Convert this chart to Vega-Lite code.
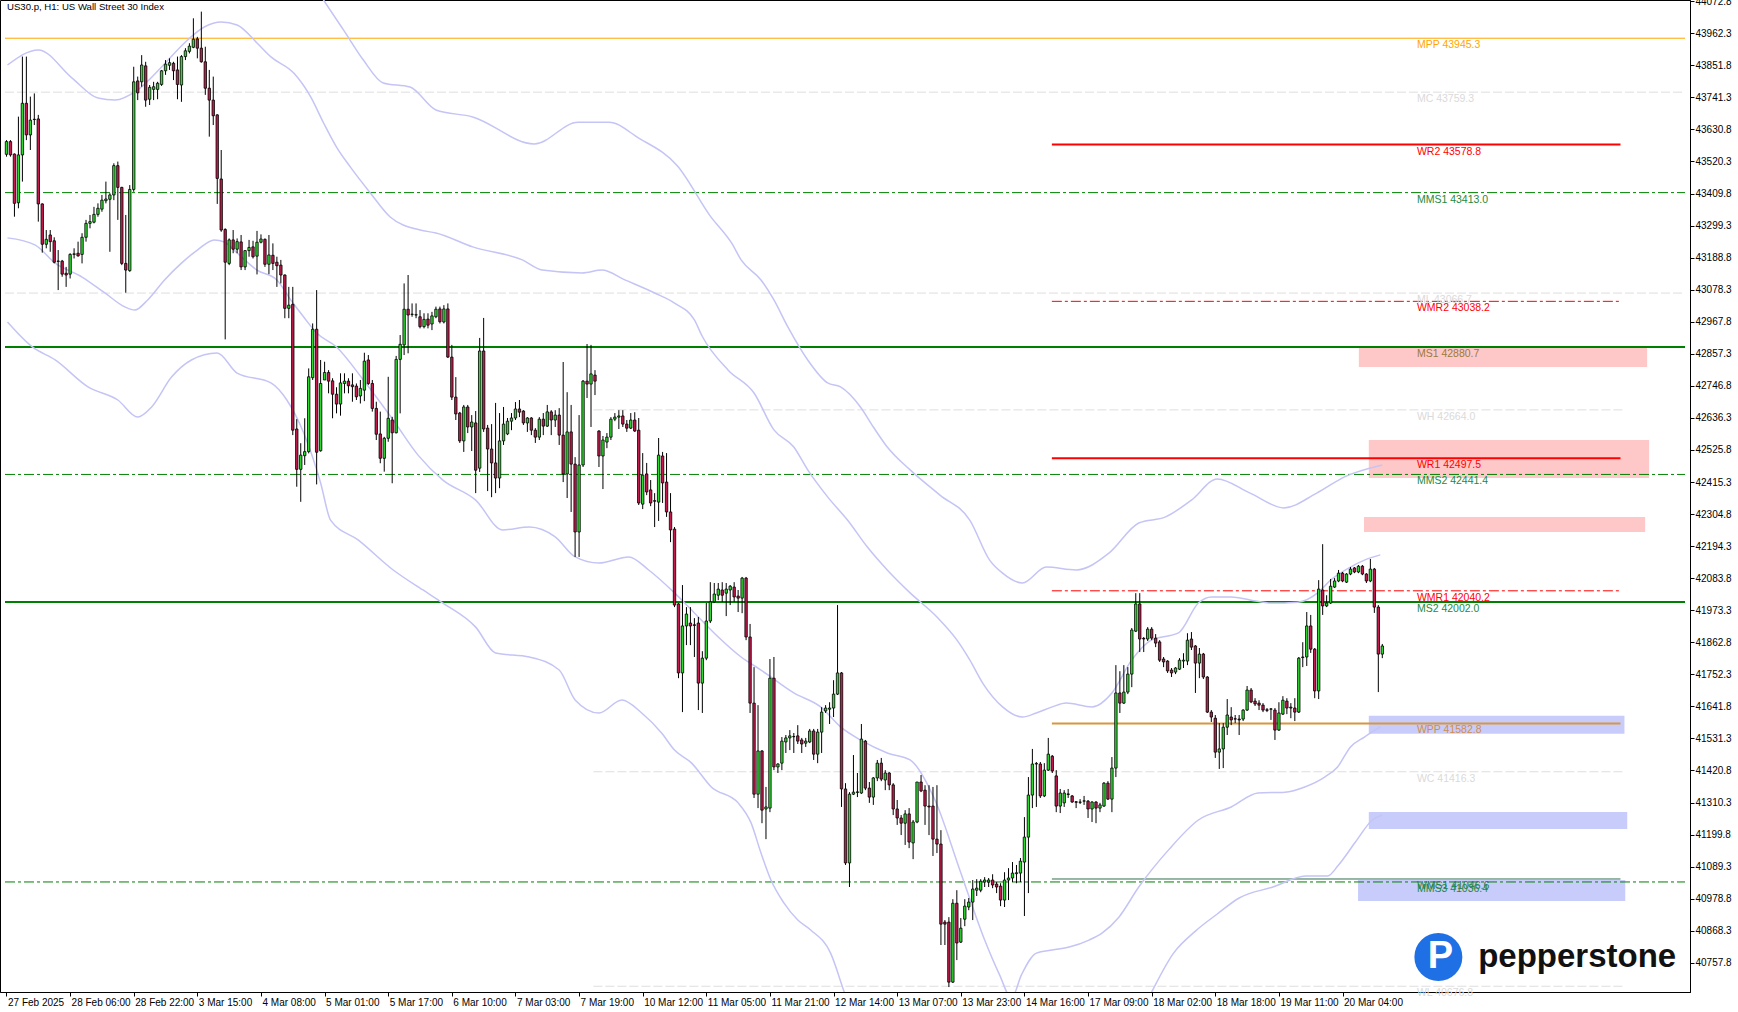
{
"$schema":"https://vega.github.io/schema/vega-lite/v6.json",
"width":1690,"height":992,"autosize":"none",
"padding":{"left":0,"top":0,"right":48,"bottom":20},
"background":"#ffffff",
"config":{"view":{"stroke":"#000000","strokeWidth":1},"axis":{"grid":false,"labelOverlap":false,"labelSeparation":0}},
"datasets":{
"candles":[
{"i":0,"o":43545,"h":43594,"l":43537,"c":43589},{"i":1,"o":43589,"h":43594,"l":43537,"c":43543},{"i":2,"o":43546,"h":43548,"l":43330,"c":43376},{"i":3,"o":43378,"h":43675,"l":43359,"c":43543},{"i":4,"o":43543,"h":43882,"l":43451,"c":43721},{"i":5,"o":43721,"h":43882,"l":43594,"c":43612},{"i":6,"o":43612,"h":43744,"l":43560,"c":43663},{"i":7,"o":43665,"h":43755,"l":43646,"c":43666},{"i":8,"o":43667,"h":43681,"l":43313,"c":43374},{"i":9,"o":43374,"h":43376,"l":43206,"c":43235},
{"i":10,"o":43235,"h":43284,"l":43221,"c":43252},{"i":11,"o":43267,"h":43284,"l":43209,"c":43244},{"i":12,"o":43247,"h":43259,"l":43169,"c":43173},{"i":13,"o":43177,"h":43215,"l":43077,"c":43176},{"i":14,"o":43177,"h":43181,"l":43123,"c":43132},{"i":15,"o":43135,"h":43157,"l":43088,"c":43129},{"i":16,"o":43132,"h":43204,"l":43117,"c":43200},{"i":17,"o":43200,"h":43221,"l":43186,"c":43202},{"i":18,"o":43204,"h":43244,"l":43192,"c":43195},{"i":19,"o":43200,"h":43273,"l":43169,"c":43259},
{"i":20,"o":43259,"h":43319,"l":43244,"c":43307},{"i":21,"o":43307,"h":43336,"l":43290,"c":43313},{"i":22,"o":43311,"h":43364,"l":43307,"c":43338},{"i":23,"o":43338,"h":43376,"l":43330,"c":43359},{"i":24,"o":43356,"h":43405,"l":43347,"c":43387},{"i":25,"o":43385,"h":43451,"l":43376,"c":43391},{"i":26,"o":43390,"h":43411,"l":43209,"c":43405},{"i":27,"o":43405,"h":43514,"l":43387,"c":43506},{"i":28,"o":43506,"h":43520,"l":43319,"c":43431},{"i":29,"o":43431,"h":43433,"l":43163,"c":43169},
{"i":30,"o":43169,"h":43336,"l":43068,"c":43146},{"i":31,"o":43144,"h":43439,"l":43140,"c":43424},{"i":32,"o":43424,"h":43847,"l":43416,"c":43795},{"i":33,"o":43798,"h":43813,"l":43732,"c":43757},{"i":34,"o":43795,"h":43887,"l":43778,"c":43853},{"i":35,"o":43850,"h":43864,"l":43709,"c":43732},{"i":36,"o":43735,"h":43784,"l":43715,"c":43776},{"i":37,"o":43769,"h":43795,"l":43732,"c":43778},{"i":38,"o":43769,"h":43795,"l":43735,"c":43790},{"i":39,"o":43786,"h":43836,"l":43781,"c":43833},
{"i":40,"o":43833,"h":43870,"l":43819,"c":43856},{"i":41,"o":43852,"h":43876,"l":43836,"c":43861},{"i":42,"o":43859,"h":43864,"l":43801,"c":43833},{"i":43,"o":43836,"h":43882,"l":43735,"c":43786},{"i":44,"o":43784,"h":43887,"l":43726,"c":43882},{"i":45,"o":43882,"h":43911,"l":43870,"c":43902},{"i":46,"o":43900,"h":43928,"l":43893,"c":43918},{"i":47,"o":43914,"h":44014,"l":43911,"c":43942},{"i":48,"o":43943,"h":43950,"l":43876,"c":43911},{"i":49,"o":43911,"h":44037,"l":43861,"c":43864},
{"i":50,"o":43864,"h":43916,"l":43750,"c":43773},{"i":51,"o":43773,"h":43836,"l":43606,"c":43732},{"i":52,"o":43732,"h":43813,"l":43646,"c":43678},{"i":53,"o":43681,"h":43683,"l":43374,"c":43462},{"i":54,"o":43460,"h":43560,"l":43278,"c":43284},{"i":55,"o":43286,"h":43290,"l":42907,"c":43173},{"i":56,"o":43169,"h":43255,"l":43163,"c":43250},{"i":57,"o":43250,"h":43284,"l":43204,"c":43218},{"i":58,"o":43218,"h":43255,"l":43204,"c":43244},{"i":59,"o":43243,"h":43267,"l":43146,"c":43157},
{"i":60,"o":43157,"h":43215,"l":43146,"c":43213},{"i":61,"o":43213,"h":43250,"l":43192,"c":43224},{"i":62,"o":43226,"h":43247,"l":43186,"c":43192},{"i":63,"o":43194,"h":43281,"l":43131,"c":43242},{"i":64,"o":43242,"h":43269,"l":43238,"c":43253},{"i":65,"o":43252,"h":43255,"l":43157,"c":43166},{"i":66,"o":43166,"h":43267,"l":43132,"c":43198},{"i":67,"o":43197,"h":43238,"l":43146,"c":43169},{"i":68,"o":43173,"h":43192,"l":43088,"c":43161},{"i":69,"o":43163,"h":43181,"l":43100,"c":43129},
{"i":70,"o":43129,"h":43131,"l":42980,"c":43014},{"i":71,"o":43014,"h":43088,"l":42980,"c":43025},{"i":72,"o":43028,"h":43088,"l":42577,"c":42594},{"i":73,"o":42598,"h":42632,"l":42399,"c":42459},{"i":74,"o":42459,"h":42549,"l":42347,"c":42508},{"i":75,"o":42506,"h":42635,"l":42474,"c":42520},{"i":76,"o":42520,"h":42807,"l":42514,"c":42778},{"i":77,"o":42775,"h":42962,"l":42767,"c":42942},{"i":78,"o":42942,"h":43077,"l":42407,"c":42518},{"i":79,"o":42523,"h":42836,"l":42520,"c":42755},
{"i":80,"o":42767,"h":42830,"l":42767,"c":42793},{"i":81,"o":42793,"h":42801,"l":42721,"c":42763},{"i":82,"o":42764,"h":42773,"l":42635,"c":42718},{"i":83,"o":42718,"h":42742,"l":42652,"c":42684},{"i":84,"o":42684,"h":42790,"l":42644,"c":42757},{"i":85,"o":42755,"h":42790,"l":42721,"c":42763},{"i":86,"o":42763,"h":42773,"l":42721,"c":42747},{"i":87,"o":42750,"h":42790,"l":42692,"c":42744},{"i":88,"o":42746,"h":42755,"l":42698,"c":42709},{"i":89,"o":42712,"h":42767,"l":42686,"c":42738},
{"i":90,"o":42732,"h":42861,"l":42694,"c":42832},{"i":91,"o":42836,"h":42853,"l":42750,"c":42755},{"i":92,"o":42755,"h":42767,"l":42658,"c":42669},{"i":93,"o":42669,"h":42692,"l":42560,"c":42580},{"i":94,"o":42581,"h":42658,"l":42480,"c":42497},{"i":95,"o":42497,"h":42571,"l":42451,"c":42566},{"i":96,"o":42566,"h":42778,"l":42554,"c":42635},{"i":97,"o":42629,"h":42640,"l":42411,"c":42585},{"i":98,"o":42585,"h":42850,"l":42583,"c":42838},{"i":99,"o":42838,"h":42922,"l":42652,"c":42890},
{"i":100,"o":42888,"h":43100,"l":42853,"c":43011},{"i":101,"o":43011,"h":43129,"l":42859,"c":42991},{"i":102,"o":42993,"h":43031,"l":42985,"c":42994},{"i":103,"o":42991,"h":43031,"l":42980,"c":42992},{"i":104,"o":42985,"h":43008,"l":42945,"c":42951},{"i":105,"o":42951,"h":42997,"l":42945,"c":42976},{"i":106,"o":42977,"h":42997,"l":42945,"c":42956},{"i":107,"o":42960,"h":43002,"l":42939,"c":42988},{"i":108,"o":42985,"h":43020,"l":42980,"c":43011},{"i":109,"o":43012,"h":43020,"l":42962,"c":42968},
{"i":110,"o":42967,"h":43025,"l":42962,"c":43012},{"i":111,"o":43012,"h":43031,"l":42843,"c":42846},{"i":112,"o":42846,"h":42888,"l":42698,"c":42708},{"i":113,"o":42708,"h":42777,"l":42629,"c":42650},{"i":114,"o":42653,"h":42657,"l":42550,"c":42557},{"i":115,"o":42557,"h":42681,"l":42519,"c":42674},{"i":116,"o":42674,"h":42681,"l":42584,"c":42605},{"i":117,"o":42605,"h":42646,"l":42522,"c":42622},{"i":118,"o":42619,"h":42660,"l":42377,"c":42456},{"i":119,"o":42463,"h":42912,"l":42450,"c":42867},
{"i":120,"o":42867,"h":42981,"l":42588,"c":42598},{"i":121,"o":42601,"h":42612,"l":42384,"c":42529},{"i":122,"o":42529,"h":42615,"l":42363,"c":42481},{"i":123,"o":42481,"h":42688,"l":42377,"c":42429},{"i":124,"o":42429,"h":42653,"l":42394,"c":42557},{"i":125,"o":42557,"h":42674,"l":42543,"c":42615},{"i":126,"o":42581,"h":42636,"l":42577,"c":42625},{"i":127,"o":42625,"h":42653,"l":42594,"c":42636},{"i":128,"o":42636,"h":42691,"l":42629,"c":42667},{"i":129,"o":42667,"h":42698,"l":42639,"c":42656},
{"i":130,"o":42660,"h":42663,"l":42612,"c":42619},{"i":131,"o":42619,"h":42639,"l":42588,"c":42636},{"i":132,"o":42636,"h":42639,"l":42577,"c":42594},{"i":133,"o":42594,"h":42601,"l":42550,"c":42570},{"i":134,"o":42570,"h":42639,"l":42560,"c":42632},{"i":135,"o":42632,"h":42653,"l":42577,"c":42608},{"i":136,"o":42608,"h":42681,"l":42605,"c":42657},{"i":137,"o":42657,"h":42663,"l":42577,"c":42629},{"i":138,"o":42629,"h":42663,"l":42605,"c":42646},{"i":139,"o":42646,"h":42670,"l":42543,"c":42577},
{"i":140,"o":42577,"h":42829,"l":42415,"c":42443},{"i":141,"o":42443,"h":42725,"l":42360,"c":42588},{"i":142,"o":42588,"h":42681,"l":42312,"c":42477},{"i":143,"o":42477,"h":42501,"l":42157,"c":42243},{"i":144,"o":42243,"h":42646,"l":42157,"c":42474},{"i":145,"o":42474,"h":42767,"l":42467,"c":42763},{"i":146,"o":42763,"h":42891,"l":42705,"c":42753},{"i":147,"o":42753,"h":42888,"l":42605,"c":42788},{"i":148,"o":42784,"h":42801,"l":42715,"c":42763},{"i":149,"o":42591,"h":42594,"l":42467,"c":42505},
{"i":150,"o":42505,"h":42574,"l":42391,"c":42560},{"i":151,"o":42553,"h":42584,"l":42532,"c":42570},{"i":152,"o":42570,"h":42639,"l":42560,"c":42632},{"i":153,"o":42632,"h":42653,"l":42625,"c":42639},{"i":154,"o":42639,"h":42663,"l":42598,"c":42643},{"i":155,"o":42643,"h":42663,"l":42605,"c":42615},{"i":156,"o":42615,"h":42629,"l":42588,"c":42601},{"i":157,"o":42601,"h":42653,"l":42598,"c":42629},{"i":158,"o":42629,"h":42656,"l":42588,"c":42591},{"i":159,"o":42594,"h":42636,"l":42336,"c":42343},
{"i":160,"o":42339,"h":42515,"l":42322,"c":42439},{"i":161,"o":42443,"h":42481,"l":42370,"c":42381},{"i":162,"o":42388,"h":42422,"l":42332,"c":42343},{"i":163,"o":42351,"h":42377,"l":42260,"c":42349},{"i":164,"o":42346,"h":42567,"l":42281,"c":42508},{"i":165,"o":42505,"h":42519,"l":42343,"c":42412},{"i":166,"o":42415,"h":42515,"l":42295,"c":42312},{"i":167,"o":42312,"h":42377,"l":42208,"c":42250},{"i":168,"o":42253,"h":42260,"l":41984,"c":41991},{"i":169,"o":41995,"h":41998,"l":41739,"c":41757},
{"i":170,"o":41757,"h":42060,"l":41622,"c":41919},{"i":171,"o":41919,"h":41984,"l":41853,"c":41960},{"i":172,"o":41929,"h":41984,"l":41853,"c":41919},{"i":173,"o":41923,"h":41946,"l":41812,"c":41921},{"i":174,"o":41929,"h":41950,"l":41629,"c":41722},{"i":175,"o":41722,"h":41832,"l":41619,"c":41808},{"i":176,"o":41808,"h":41998,"l":41801,"c":41936},{"i":177,"o":41936,"h":42070,"l":41929,"c":42002},{"i":178,"o":42002,"h":42067,"l":41998,"c":42029},{"i":179,"o":42025,"h":42067,"l":42008,"c":42046},
{"i":180,"o":42043,"h":42070,"l":42002,"c":42025},{"i":181,"o":42032,"h":42067,"l":41953,"c":42046},{"i":182,"o":42043,"h":42060,"l":41991,"c":42056},{"i":183,"o":42053,"h":42070,"l":42002,"c":42019},{"i":184,"o":42022,"h":42043,"l":41967,"c":42015},{"i":185,"o":42015,"h":42088,"l":41963,"c":42084},{"i":186,"o":42084,"h":42088,"l":41870,"c":41881},{"i":187,"o":41881,"h":41926,"l":41619,"c":41653},{"i":188,"o":41653,"h":41777,"l":41326,"c":41339},{"i":189,"o":41339,"h":41646,"l":41291,"c":41488},
{"i":190,"o":41488,"h":41491,"l":41239,"c":41284},{"i":191,"o":41288,"h":41364,"l":41184,"c":41295},{"i":192,"o":41291,"h":41805,"l":41277,"c":41739},{"i":193,"o":41739,"h":41812,"l":41422,"c":41433},{"i":194,"o":41433,"h":41446,"l":41412,"c":41443},{"i":195,"o":41446,"h":41536,"l":41422,"c":41522},{"i":196,"o":41519,"h":41543,"l":41481,"c":41533},{"i":197,"o":41533,"h":41560,"l":41491,"c":41540},{"i":198,"o":41538,"h":41550,"l":41481,"c":41537},{"i":199,"o":41540,"h":41577,"l":41512,"c":41522},
{"i":200,"o":41526,"h":41533,"l":41481,"c":41512},{"i":201,"o":41515,"h":41533,"l":41502,"c":41522},{"i":202,"o":41519,"h":41564,"l":41515,"c":41557},{"i":203,"o":41557,"h":41564,"l":41457,"c":41477},{"i":204,"o":41477,"h":41564,"l":41446,"c":41553},{"i":205,"o":41553,"h":41639,"l":41481,"c":41622},{"i":206,"o":41626,"h":41646,"l":41619,"c":41636},{"i":207,"o":41632,"h":41656,"l":41581,"c":41636},{"i":208,"o":41636,"h":41732,"l":41605,"c":41684},{"i":209,"o":41684,"h":41991,"l":41681,"c":41757},
{"i":210,"o":41757,"h":41760,"l":41295,"c":41357},{"i":211,"o":41357,"h":41377,"l":41095,"c":41102},{"i":212,"o":41102,"h":41346,"l":41019,"c":41339},{"i":213,"o":41339,"h":41474,"l":41336,"c":41346},{"i":214,"o":41345,"h":41412,"l":41329,"c":41347},{"i":215,"o":41343,"h":41581,"l":41340,"c":41529},{"i":216,"o":41522,"h":41526,"l":41353,"c":41360},{"i":217,"o":41360,"h":41381,"l":41309,"c":41329},{"i":218,"o":41329,"h":41398,"l":41302,"c":41395},{"i":219,"o":41395,"h":41457,"l":41384,"c":41446},
{"i":220,"o":41446,"h":41464,"l":41384,"c":41391},{"i":221,"o":41388,"h":41422,"l":41353,"c":41412},{"i":222,"o":41412,"h":41415,"l":41353,"c":41371},{"i":223,"o":41371,"h":41377,"l":41267,"c":41288},{"i":224,"o":41288,"h":41319,"l":41233,"c":41257},{"i":225,"o":41257,"h":41267,"l":41198,"c":41239},{"i":226,"o":41239,"h":41284,"l":41164,"c":41271},{"i":227,"o":41271,"h":41291,"l":41153,"c":41174},{"i":228,"o":41171,"h":41250,"l":41115,"c":41243},{"i":229,"o":41243,"h":41381,"l":41239,"c":41381},
{"i":230,"o":41381,"h":41405,"l":41346,"c":41350},{"i":231,"o":41353,"h":41370,"l":41233,"c":41298},{"i":232,"o":41298,"h":41370,"l":41198,"c":41295},{"i":233,"o":41298,"h":41364,"l":41126,"c":41184},{"i":234,"o":41184,"h":41370,"l":41136,"c":41167},{"i":235,"o":41167,"h":41215,"l":40819,"c":40891},{"i":236,"o":40898,"h":40905,"l":40819,"c":40891},{"i":237,"o":40898,"h":40915,"l":40674,"c":40691},{"i":238,"o":40691,"h":40977,"l":40688,"c":40963},{"i":239,"o":40963,"h":41008,"l":40767,"c":40826},
{"i":240,"o":40829,"h":40912,"l":40826,"c":40877},{"i":241,"o":40908,"h":40977,"l":40884,"c":40953},{"i":242,"o":40950,"h":40981,"l":40939,"c":40967},{"i":243,"o":40967,"h":41043,"l":40905,"c":41012},{"i":244,"o":41008,"h":41046,"l":40988,"c":41015},{"i":245,"o":41008,"h":41046,"l":41001,"c":41039},{"i":246,"o":41036,"h":41053,"l":41019,"c":41043},{"i":247,"o":41036,"h":41050,"l":41019,"c":41043},{"i":248,"o":41043,"h":41063,"l":41015,"c":41026},{"i":249,"o":41029,"h":41036,"l":40998,"c":41019},
{"i":250,"o":41022,"h":41032,"l":40953,"c":40974},{"i":251,"o":40974,"h":41070,"l":40950,"c":41043},{"i":252,"o":41043,"h":41084,"l":40974,"c":41050},{"i":253,"o":41050,"h":41105,"l":41036,"c":41067},{"i":254,"o":41065,"h":41095,"l":41032,"c":41068},{"i":255,"o":41067,"h":41119,"l":41036,"c":41108},{"i":256,"o":41105,"h":41260,"l":40919,"c":41191},{"i":257,"o":41191,"h":41398,"l":40998,"c":41336},{"i":258,"o":41336,"h":41495,"l":41291,"c":41443},{"i":259,"o":41443,"h":41450,"l":41295,"c":41445},
{"i":260,"o":41443,"h":41450,"l":41326,"c":41333},{"i":261,"o":41333,"h":41446,"l":41329,"c":41422},{"i":262,"o":41422,"h":41533,"l":41419,"c":41477},{"i":263,"o":41470,"h":41474,"l":41412,"c":41419},{"i":264,"o":41402,"h":41422,"l":41277,"c":41298},{"i":265,"o":41298,"h":41357,"l":41274,"c":41343},{"i":266,"o":41309,"h":41353,"l":41295,"c":41343},{"i":267,"o":41338,"h":41357,"l":41326,"c":41340},{"i":268,"o":41333,"h":41336,"l":41309,"c":41312},{"i":269,"o":41313,"h":41315,"l":41291,"c":41311},
{"i":270,"o":41311,"h":41322,"l":41305,"c":41312},{"i":271,"o":41315,"h":41333,"l":41302,"c":41316},{"i":272,"o":41315,"h":41319,"l":41257,"c":41288},{"i":273,"o":41288,"h":41315,"l":41243,"c":41312},{"i":274,"o":41312,"h":41315,"l":41239,"c":41291},{"i":275,"o":41291,"h":41309,"l":41277,"c":41302},{"i":276,"o":41298,"h":41381,"l":41295,"c":41377},{"i":277,"o":41377,"h":41384,"l":41319,"c":41322},{"i":278,"o":41322,"h":41467,"l":41277,"c":41429},{"i":279,"o":41429,"h":41784,"l":41398,"c":41688},
{"i":280,"o":41688,"h":41763,"l":41619,"c":41653},{"i":281,"o":41653,"h":41784,"l":41650,"c":41691},{"i":282,"o":41691,"h":41777,"l":41684,"c":41753},{"i":283,"o":41753,"h":41912,"l":41708,"c":41905},{"i":284,"o":41901,"h":42032,"l":41898,"c":41995},{"i":285,"o":41995,"h":42032,"l":41829,"c":41874},{"i":286,"o":41876,"h":41881,"l":41829,"c":41874},{"i":287,"o":41874,"h":41915,"l":41867,"c":41908},{"i":288,"o":41908,"h":41915,"l":41870,"c":41877},{"i":289,"o":41877,"h":41891,"l":41846,"c":41860},
{"i":290,"o":41864,"h":41870,"l":41795,"c":41801},{"i":291,"o":41805,"h":41812,"l":41777,"c":41795},{"i":292,"o":41798,"h":41801,"l":41757,"c":41764},{"i":293,"o":41767,"h":41774,"l":41743,"c":41757},{"i":294,"o":41760,"h":41777,"l":41753,"c":41774},{"i":295,"o":41770,"h":41808,"l":41767,"c":41801},{"i":296,"o":41798,"h":41825,"l":41774,"c":41801},{"i":297,"o":41798,"h":41894,"l":41784,"c":41870},{"i":298,"o":41874,"h":41898,"l":41836,"c":41846},{"i":299,"o":41850,"h":41853,"l":41688,"c":41791},
{"i":300,"o":41791,"h":41843,"l":41739,"c":41822},{"i":301,"o":41822,"h":41826,"l":41736,"c":41743},{"i":302,"o":41743,"h":41746,"l":41619,"c":41622},{"i":303,"o":41622,"h":41629,"l":41588,"c":41605},{"i":304,"o":41601,"h":41612,"l":41464,"c":41484},{"i":305,"o":41484,"h":41584,"l":41426,"c":41495},{"i":306,"o":41495,"h":41584,"l":41429,"c":41570},{"i":307,"o":41570,"h":41667,"l":41543,"c":41612},{"i":308,"o":41605,"h":41639,"l":41577,"c":41595},{"i":309,"o":41599,"h":41612,"l":41584,"c":41598},
{"i":310,"o":41598,"h":41612,"l":41543,"c":41595},{"i":311,"o":41598,"h":41632,"l":41591,"c":41629},{"i":312,"o":41629,"h":41712,"l":41626,"c":41698},{"i":313,"o":41698,"h":41705,"l":41653,"c":41657},{"i":314,"o":41660,"h":41670,"l":41643,"c":41650},{"i":315,"o":41653,"h":41663,"l":41629,"c":41646},{"i":316,"o":41646,"h":41653,"l":41622,"c":41629},{"i":317,"o":41630,"h":41636,"l":41622,"c":41628},{"i":318,"o":41632,"h":41636,"l":41595,"c":41633},{"i":319,"o":41629,"h":41636,"l":41526,"c":41560},
{"i":320,"o":41560,"h":41656,"l":41557,"c":41619},{"i":321,"o":41615,"h":41677,"l":41612,"c":41663},{"i":322,"o":41660,"h":41670,"l":41615,"c":41636},{"i":323,"o":41639,"h":41653,"l":41601,"c":41636},{"i":324,"o":41636,"h":41670,"l":41591,"c":41622},{"i":325,"o":41622,"h":41812,"l":41619,"c":41808},{"i":326,"o":41810,"h":41863,"l":41777,"c":41812},{"i":327,"o":41812,"h":41967,"l":41781,"c":41919},{"i":328,"o":41919,"h":41957,"l":41826,"c":41839},{"i":329,"o":41839,"h":41843,"l":41670,"c":41695},
{"i":330,"o":41695,"h":42077,"l":41667,"c":42046},{"i":331,"o":42043,"h":42201,"l":41957,"c":41988},{"i":332,"o":41988,"h":42025,"l":41984,"c":41998},{"i":333,"o":41998,"h":42081,"l":41995,"c":42056},{"i":334,"o":42053,"h":42084,"l":42050,"c":42074},{"i":335,"o":42074,"h":42112,"l":42070,"c":42101},{"i":336,"o":42101,"h":42105,"l":42070,"c":42074},{"i":337,"o":42070,"h":42101,"l":42067,"c":42098},{"i":338,"o":42098,"h":42122,"l":42094,"c":42115},{"i":339,"o":42119,"h":42122,"l":42101,"c":42105},
{"i":340,"o":42105,"h":42129,"l":42101,"c":42125},{"i":341,"o":42125,"h":42129,"l":42094,"c":42098},{"i":342,"o":42098,"h":42101,"l":42067,"c":42074},{"i":343,"o":42074,"h":42150,"l":42070,"c":42115},{"i":344,"o":42115,"h":42119,"l":41964,"c":41984},{"i":345,"o":41984,"h":41991,"l":41691,"c":41822},{"i":346,"o":41822,"h":41857,"l":41808,"c":41850}
],
"bands":[
{"b":"UO","i":72,"p":44250},{"b":"UO","i":79.75,"p":44077},{"b":"UO","i":84.75,"p":43974},{"b":"UO","i":89.75,"p":43870},{"b":"UO","i":94.75,"p":43791},{"b":"UO","i":101.5,"p":43777},{"b":"UO","i":108,"p":43698},{"b":"UO","i":117.25,"p":43674},{"b":"UO","i":132.75,"p":43581},{"b":"UO","i":143.75,"p":43656},{"b":"UO","i":151.5,"p":43656},{"b":"UO","i":159,"p":43601},{"b":"UO","i":168.75,"p":43505},{"b":"UO","i":177,"p":43332},{"b":"UO","i":182.5,"p":43236},{"b":"UO","i":184.75,"p":43181},{"b":"UO","i":189.75,"p":43112},{"b":"UO","i":193,"p":43043},{"b":"UO","i":196.5,"p":42950},{"b":"UO","i":201.5,"p":42836},{"b":"UO","i":206.5,"p":42757},{"b":"UO","i":209.75,"p":42743},{"b":"UO","i":214.75,"p":42674},{"b":"UO","i":218,"p":42605},{"b":"UO","i":221.5,"p":42536},{"b":"UO","i":227.25,"p":42457},{"b":"UO","i":234.75,"p":42370},{"b":"UO","i":242.25,"p":42284},{"b":"UO","i":247.25,"p":42146},{"b":"UO","i":250.5,"p":42101},{"b":"UO","i":255.5,"p":42067},{"b":"UO","i":261.5,"p":42122},{"b":"UO","i":269,"p":42112},{"b":"UO","i":277.25,"p":42170},{"b":"UO","i":284.75,"p":42274},{"b":"UO","i":291.5,"p":42295},{"b":"UO","i":298,"p":42353},{"b":"UO","i":304.5,"p":42426},{"b":"UO","i":312.75,"p":42377},{"b":"UO","i":321.25,"p":42326},{"b":"UO","i":329.5,"p":42377},{"b":"UO","i":336.5,"p":42433},{"b":"UO","i":346,"p":42474},
{"b":"UI","i":0.25,"p":43853},{"b":"UI","i":8,"p":43905},{"b":"UI","i":16.5,"p":43808},{"b":"UI","i":23,"p":43739},{"b":"UI","i":27.25,"p":43732},{"b":"UI","i":33,"p":43767},{"b":"UI","i":39,"p":43846},{"b":"UI","i":44.75,"p":43929},{"b":"UI","i":49.75,"p":43984},{"b":"UI","i":54,"p":44001},{"b":"UI","i":58,"p":43991},{"b":"UI","i":63,"p":43929},{"b":"UI","i":66.5,"p":43881},{"b":"UI","i":72.25,"p":43825},{"b":"UI","i":76.5,"p":43743},{"b":"UI","i":79.75,"p":43653},{"b":"UI","i":83,"p":43570},{"b":"UI","i":86.5,"p":43501},{"b":"UI","i":91.5,"p":43412},{"b":"UI","i":96.5,"p":43329},{"b":"UI","i":104,"p":43284},{"b":"UI","i":108,"p":43274},{"b":"UI","i":117.25,"p":43226},{"b":"UI","i":129.75,"p":43181},{"b":"UI","i":134.75,"p":43146},{"b":"UI","i":144.75,"p":43136},{"b":"UI","i":149.75,"p":43146},{"b":"UI","i":155.5,"p":43112},{"b":"UI","i":163,"p":43067},{"b":"UI","i":168,"p":43032},{"b":"UI","i":173,"p":42974},{"b":"UI","i":175,"p":42917},{"b":"UI","i":181.5,"p":42801},{"b":"UI","i":188,"p":42722},{"b":"UI","i":193,"p":42595},{"b":"UI","i":198,"p":42536},{"b":"UI","i":201.5,"p":42457},{"b":"UI","i":206.5,"p":42364},{"b":"UI","i":211.5,"p":42284},{"b":"UI","i":216.5,"p":42191},{"b":"UI","i":221.5,"p":42112},{"b":"UI","i":227.25,"p":42033},{"b":"UI","i":234,"p":41950},{"b":"UI","i":239,"p":41871},{"b":"UI","i":242.25,"p":41802},{"b":"UI","i":245.5,"p":41722},{"b":"UI","i":250.5,"p":41640},{"b":"UI","i":255.5,"p":41605},{"b":"UI","i":259,"p":41619},{"b":"UI","i":263,"p":41640},{"b":"UI","i":266.5,"p":41653},{"b":"UI","i":273,"p":41640},{"b":"UI","i":278,"p":41688},{"b":"UI","i":283,"p":41802},{"b":"UI","i":288,"p":41871},{"b":"UI","i":294.75,"p":41895},{"b":"UI","i":299.75,"p":41998},{"b":"UI","i":303,"p":42019},{"b":"UI","i":308,"p":42019},{"b":"UI","i":313,"p":42008},{"b":"UI","i":318,"p":41998},{"b":"UI","i":324.75,"p":42001},{"b":"UI","i":329.75,"p":42033},{"b":"UI","i":333,"p":42077},{"b":"UI","i":338,"p":42122},{"b":"UI","i":341.5,"p":42146},{"b":"UI","i":345.5,"p":42164},
{"b":"LI","i":0.25,"p":43257},{"b":"LI","i":7.25,"p":43232},{"b":"LI","i":12.25,"p":43170},{"b":"LI","i":19,"p":43122},{"b":"LI","i":24.75,"p":43067},{"b":"LI","i":29.75,"p":43019},{"b":"LI","i":32.25,"p":43008},{"b":"LI","i":35.5,"p":43043},{"b":"LI","i":39.75,"p":43112},{"b":"LI","i":44,"p":43170},{"b":"LI","i":48,"p":43215},{"b":"LI","i":52.25,"p":43250},{"b":"LI","i":54.75,"p":43243},{"b":"LI","i":58,"p":43205},{"b":"LI","i":63,"p":43146},{"b":"LI","i":68,"p":43112},{"b":"LI","i":71.5,"p":43043},{"b":"LI","i":74.75,"p":42984},{"b":"LI","i":78,"p":42929},{"b":"LI","i":83,"p":42881},{"b":"LI","i":89.75,"p":42767},{"b":"LI","i":97.25,"p":42629},{"b":"LI","i":103.5,"p":42508},{"b":"LI","i":109.75,"p":42422},{"b":"LI","i":118,"p":42353},{"b":"LI","i":124.75,"p":42250},{"b":"LI","i":131.5,"p":42260},{"b":"LI","i":138,"p":42226},{"b":"LI","i":143,"p":42157},{"b":"LI","i":149,"p":42136},{"b":"LI","i":156.5,"p":42157},{"b":"LI","i":161.5,"p":42112},{"b":"LI","i":168,"p":42033},{"b":"LI","i":173,"p":41964},{"b":"LI","i":179,"p":41881},{"b":"LI","i":184.75,"p":41812},{"b":"LI","i":189.75,"p":41767},{"b":"LI","i":198,"p":41688},{"b":"LI","i":204.75,"p":41640},{"b":"LI","i":209.75,"p":41571},{"b":"LI","i":214.75,"p":41526},{"b":"LI","i":221.5,"p":41481},{"b":"LI","i":227.25,"p":41457},{"b":"LI","i":233.5,"p":41319},{"b":"LI","i":239.75,"p":41078},{"b":"LI","i":246,"p":40836},{"b":"LI","i":249.75,"p":40716},{"b":"LI","i":252.75,"p":40636},{"b":"LI","i":255.25,"p":40716},{"b":"LI","i":259,"p":40791},{"b":"LI","i":263,"p":40802},{"b":"LI","i":267.25,"p":40812},{"b":"LI","i":272.25,"p":40836},{"b":"LI","i":275.5,"p":40860},{"b":"LI","i":279.75,"p":40915},{"b":"LI","i":284.75,"p":41019},{"b":"LI","i":292.25,"p":41147},{"b":"LI","i":299.75,"p":41250},{"b":"LI","i":308,"p":41295},{"b":"LI","i":314.75,"p":41343},{"b":"LI","i":321.5,"p":41346},{"b":"LI","i":326.5,"p":41364},{"b":"LI","i":331.5,"p":41398},{"b":"LI","i":334.75,"p":41433},{"b":"LI","i":338,"p":41502},{"b":"LI","i":341.5,"p":41536},{"b":"LI","i":345.5,"p":41571},
{"b":"LO","i":0.25,"p":42967},{"b":"LO","i":6.5,"p":42881},{"b":"LO","i":12.25,"p":42836},{"b":"LO","i":20.5,"p":42743},{"b":"LO","i":28,"p":42698},{"b":"LO","i":33,"p":42639},{"b":"LO","i":36.5,"p":42674},{"b":"LO","i":41.5,"p":42777},{"b":"LO","i":46.5,"p":42836},{"b":"LO","i":53,"p":42860},{"b":"LO","i":58,"p":42791},{"b":"LO","i":66.5,"p":42757},{"b":"LO","i":70.5,"p":42698},{"b":"LO","i":74.75,"p":42584},{"b":"LO","i":79,"p":42412},{"b":"LO","i":81.5,"p":42284},{"b":"LO","i":88.5,"p":42215},{"b":"LO","i":97.25,"p":42112},{"b":"LO","i":104.75,"p":42043},{"b":"LO","i":109.75,"p":41998},{"b":"LO","i":118,"p":41915},{"b":"LO","i":123,"p":41826},{"b":"LO","i":131.5,"p":41812},{"b":"LO","i":139,"p":41767},{"b":"LO","i":143,"p":41664},{"b":"LO","i":149,"p":41619},{"b":"LO","i":154.75,"p":41664},{"b":"LO","i":159.75,"p":41619},{"b":"LO","i":164.75,"p":41550},{"b":"LO","i":168,"p":41491},{"b":"LO","i":172.25,"p":41447},{"b":"LO","i":177.25,"p":41364},{"b":"LO","i":184,"p":41309},{"b":"LO","i":187.25,"p":41240},{"b":"LO","i":189.75,"p":41136},{"b":"LO","i":192.25,"p":41043},{"b":"LO","i":195.5,"p":40964},{"b":"LO","i":199,"p":40905},{"b":"LO","i":202.25,"p":40871},{"b":"LO","i":207.25,"p":40791},{"b":"LO","i":210.5,"p":40664},{"b":"LO","i":214.75,"p":40492},{"b":"LO","i":235,"p":40150},{"b":"LO","i":262,"p":40150},{"b":"LO","i":282.25,"p":40492},{"b":"LO","i":288,"p":40657},{"b":"LO","i":293.5,"p":40791},{"b":"LO","i":299,"p":40867},{"b":"LO","i":304.5,"p":40926},{"b":"LO","i":310,"p":40981},{"b":"LO","i":318.5,"p":41019},{"b":"LO","i":326.75,"p":41057},{"b":"LO","i":332.25,"p":41057},{"b":"LO","i":335,"p":41095},{"b":"LO","i":339.25,"p":41174},{"b":"LO","i":343.5,"p":41250},{"b":"LO","i":346,"p":41267}
],
"levels":[
{"name":"MPP","value":43945.3,"from":-0.375,"to":422.125,"g":"Mpivot"},
{"name":"MC","value":43759.3,"from":-0.375,"to":422.125,"g":"gray"},
{"name":"WR2","value":43578.8,"from":262.9,"to":405.9,"g":"Wres"},
{"name":"MMS1","value":43413.0,"from":-0.375,"to":422.125,"g":"Mmid"},
{"name":"ML","value":43066.7,"from":-0.375,"to":422.125,"g":"gray"},
{"name":"WMR2","value":43038.2,"from":262.9,"to":405.9,"g":"Wmid"},
{"name":"MS1","value":42880.7,"from":-0.375,"to":422.125,"g":"Msup"},
{"name":"WH","value":42664.0,"from":147.6,"to":407.1,"g":"gray"},
{"name":"WR1","value":42497.5,"from":262.9,"to":405.9,"g":"Wres"},
{"name":"MMS2","value":42441.4,"from":-0.375,"to":422.125,"g":"Mmid"},
{"name":"WMR1","value":42040.2,"from":262.9,"to":405.9,"g":"Wmid"},
{"name":"MS2","value":42002.0,"from":-0.375,"to":422.125,"g":"Msup"},
{"name":"WPP","value":41582.8,"from":262.9,"to":405.9,"g":"Wpivot"},
{"name":"WC","value":41416.3,"from":147.6,"to":407.1,"g":"gray"},
{"name":"WMS1","value":41046.6,"from":262.9,"to":405.9,"g":"Wsup"},
{"name":"MMS3","value":41036.4,"from":-0.375,"to":422.125,"g":"Mmid"},
{"name":"WL","value":40676.8,"from":147.6,"to":407.1,"g":"gray"}
],
"zones":[
{"zone":"supply","i1":340.1,"i2":412.6,"p1":42884,"p2":42812},
{"zone":"supply","i1":342.6,"i2":413.1,"p1":42560,"p2":42429},
{"zone":"supply","i1":341.4,"i2":412.1,"p1":42295,"p2":42243},
{"zone":"demand","i1":342.6,"i2":406.9,"p1":41609,"p2":41547},
{"zone":"demand","i1":342.6,"i2":407.6,"p1":41278,"p2":41219},
{"zone":"demand","i1":339.9,"i2":407.1,"p1":41043,"p2":40971}
]
},
"layer":[
{"data":{"name":"candles"},"mark":{"type":"rule","color":"#000000","strokeWidth":1,"opacity":0},
 "encoding":{
  "x":{"field":"i","type":"quantitative","title":null,"scale":{"domain":[-0.375,422.125],"nice":false,"zero":false},
   "axis":{"title":null,"orient":"bottom","tickCount":60,"values":[0,16,32,48,64,80,96,112,128,144,160,176,192,208,224,240,256,272,288,304,320,336],
    "labelExpr":"['27 Feb 2025','28 Feb 06:00','28 Feb 22:00','3 Mar 15:00','4 Mar 08:00','5 Mar 01:00','5 Mar 17:00','6 Mar 10:00','7 Mar 03:00','7 Mar 19:00','10 Mar 12:00','11 Mar 05:00','11 Mar 21:00','12 Mar 14:00','13 Mar 07:00','13 Mar 23:00','14 Mar 16:00','17 Mar 09:00','18 Mar 02:00','18 Mar 18:00','19 Mar 11:00','20 Mar 04:00'][round(datum.value/16)]",
    "tickSize":4,"tickColor":"#000000","domainColor":"#000000","labelAlign":"left","labelBaseline":"top","labelPadding":1,"labelOffset":1,
    "labelFont":"Liberation Sans","labelFontSize":10,"labelColor":"#000000","labelFlush":false,"labelOverlap":false,"labelBound":false,"grid":false}},
  "y":{"field":"l","type":"quantitative","title":null,"scale":{"domain":[40657,44077.1],"nice":false,"zero":false},
   "axis":{"title":null,"orient":"right","tickCount":60,"values":[44072.8,43962.3,43851.8,43741.3,43630.8,43520.3,43409.8,43299.3,43188.8,43078.3,42967.8,42857.3,42746.8,42636.3,42525.8,42415.3,42304.8,42194.3,42083.8,41973.3,41862.8,41752.3,41641.8,41531.3,41420.8,41310.3,41199.8,41089.3,40978.8,40868.3,40757.8],
    "format":".1f","tickSize":4,"tickColor":"#000000","domainColor":"#000000","labelPadding":1,"labelAlign":"left","labelBaseline":"middle",
    "labelFont":"Liberation Sans","labelFontSize":10,"labelColor":"#000000","labelFlush":false,"labelOverlap":false,"labelSeparation":0,"labelBound":false,"grid":false}},
  "y2":{"field":"h"}}},
{"data":{"name":"zones"},"mark":{"type":"rect"},
 "encoding":{"x":{"field":"i1","type":"quantitative","title":null},"x2":{"field":"i2"},"y":{"field":"p1","type":"quantitative","title":null},"y2":{"field":"p2"},
 "fill":{"field":"zone","type":"nominal","legend":null,"scale":{"domain":["supply","demand"],"range":["#ffc8c8","#c8ccfa"]}}}},
{"data":{"name":"levels"},"transform":[{"filter":"datum.g=='Mpivot'"}],"mark":{"type":"rule","color":"#ffa500","strokeWidth":1},
 "encoding":{"x":{"field":"from","type":"quantitative","title":null},"x2":{"field":"to"},"y":{"field":"value","type":"quantitative","title":null}}},
{"data":{"name":"levels"},"transform":[{"filter":"datum.g=='gray'"}],"mark":{"type":"rule","color":"#dedede","strokeWidth":1,"strokeDash":[9,3]},
 "encoding":{"x":{"field":"from","type":"quantitative","title":null},"x2":{"field":"to"},"y":{"field":"value","type":"quantitative","title":null}}},
{"data":{"name":"levels"},"transform":[{"filter":"datum.g=='Wres'"}],"mark":{"type":"rule","color":"#ff0000","strokeWidth":2},
 "encoding":{"x":{"field":"from","type":"quantitative","title":null},"x2":{"field":"to"},"y":{"field":"value","type":"quantitative","title":null}}},
{"data":{"name":"levels"},"transform":[{"filter":"datum.g=='Wmid'"}],"mark":{"type":"rule","color":"#ff0000","strokeWidth":1,"strokeDash":[10,3,3,3]},
 "encoding":{"x":{"field":"from","type":"quantitative","title":null},"x2":{"field":"to"},"y":{"field":"value","type":"quantitative","title":null}}},
{"data":{"name":"levels"},"transform":[{"filter":"datum.g=='Msup'"}],"mark":{"type":"rule","color":"#008000","strokeWidth":2},
 "encoding":{"x":{"field":"from","type":"quantitative","title":null},"x2":{"field":"to"},"y":{"field":"value","type":"quantitative","title":null}}},
{"data":{"name":"levels"},"transform":[{"filter":"datum.g=='Mmid'"}],"mark":{"type":"rule","color":"#008000","strokeWidth":1,"strokeDash":[10,3,3,3]},
 "encoding":{"x":{"field":"from","type":"quantitative","title":null},"x2":{"field":"to"},"y":{"field":"value","type":"quantitative","title":null}}},
{"data":{"name":"levels"},"transform":[{"filter":"datum.g=='Wpivot'"}],"mark":{"type":"rule","color":"#d8963e","strokeWidth":2},
 "encoding":{"x":{"field":"from","type":"quantitative","title":null},"x2":{"field":"to"},"y":{"field":"value","type":"quantitative","title":null}}},
{"data":{"name":"levels"},"transform":[{"filter":"datum.g=='Wsup'"}],"mark":{"type":"rule","color":"#2f6f4f","strokeWidth":1},
 "encoding":{"x":{"field":"from","type":"quantitative","title":null},"x2":{"field":"to"},"y":{"field":"value","type":"quantitative","title":null}}},
{"data":{"name":"bands"},"mark":{"type":"line","stroke":"#c4c4f6","strokeWidth":1.5,"interpolate":"monotone","clip":true},
 "encoding":{"x":{"field":"i","type":"quantitative","title":null},"y":{"field":"p","type":"quantitative","title":null},"detail":{"field":"b"}}},
{"data":{"name":"candles"},"mark":{"type":"rule","color":"#000000","strokeWidth":1},
 "encoding":{"x":{"field":"i","type":"quantitative","title":null},"y":{"field":"l","type":"quantitative","title":null},"y2":{"field":"h"}}},
{"data":{"name":"candles"},"mark":{"type":"bar","width":2.4,"stroke":"#000000","strokeWidth":0.8},
 "encoding":{"x":{"field":"i","type":"quantitative","title":null},"y":{"field":"o","type":"quantitative","title":null},"y2":{"field":"c"},
  "fill":{"condition":{"test":"datum.c >= datum.o","value":"#2fd82f"},"value":"#c21a4a"}}},
{"data":{"name":"levels"},"transform":[{"calculate":"datum.name + ' ' + format(datum.value, '.1f')","as":"lab"}],"mark":{"type":"text","align":"left","baseline":"top","dy":2,"font":"Liberation Sans","fontSize":10.5},
 "encoding":{"x":{"datum":354.7,"type":"quantitative","title":null},"y":{"field":"value","type":"quantitative","title":null},
  "text":{"field":"lab"},
  "color":{"field":"name","type":"nominal","legend":null,"scale":{"domain":["MPP","MC","WR2","MMS1","ML","WMR2","MS1","WH","WR1","MMS2","WMR1","MS2","WPP","WC","WMS1","MMS3","WL"],"range":["#ffa500","#dadada","#ff0000","#1d8a3e","#dadada","#ff0000","#9a7a3a","#dadada","#ff0000","#1d8a3e","#ff0000","#1d8a3e","#cf8c50","#dadada","#2a7a5a","#1d8a3e","#dadada"]}}}},
{"data":{"values":[{}]},"mark":{"type":"text","align":"left","baseline":"top","dx":2,"dy":2,"font":"Liberation Sans","fontSize":9.6,"color":"#000000","text":"US30.p, H1:  US Wall Street 30 Index"},
 "encoding":{"x":{"datum":-0.375,"type":"quantitative","title":null},"y":{"datum":44077.1,"type":"quantitative","title":null}}},
{"data":{"values":[{}]},"mark":{"type":"point","shape":"circle","filled":true,"color":"#1f6fe5","size":2300,"opacity":1},
 "encoding":{"x":{"datum":360.1,"type":"quantitative","title":null},"y":{"datum":40777.6,"type":"quantitative","title":null}}},
{"data":{"values":[{}]},"mark":{"type":"text","align":"center","baseline":"middle","font":"Liberation Sans","fontWeight":"bold","fontSize":38,"color":"#ffffff","text":"P"},
 "encoding":{"x":{"datum":360.6,"type":"quantitative","title":null},"y":{"datum":40777.6,"type":"quantitative","title":null}}},
{"data":{"values":[{}]},"mark":{"type":"text","align":"left","baseline":"middle","font":"Liberation Sans","fontWeight":"bold","fontSize":33,"color":"#111111","text":"pepperstone"},
 "encoding":{"x":{"datum":370.1,"type":"quantitative","title":null},"y":{"datum":40777.6,"type":"quantitative","title":null}}}
]
}
